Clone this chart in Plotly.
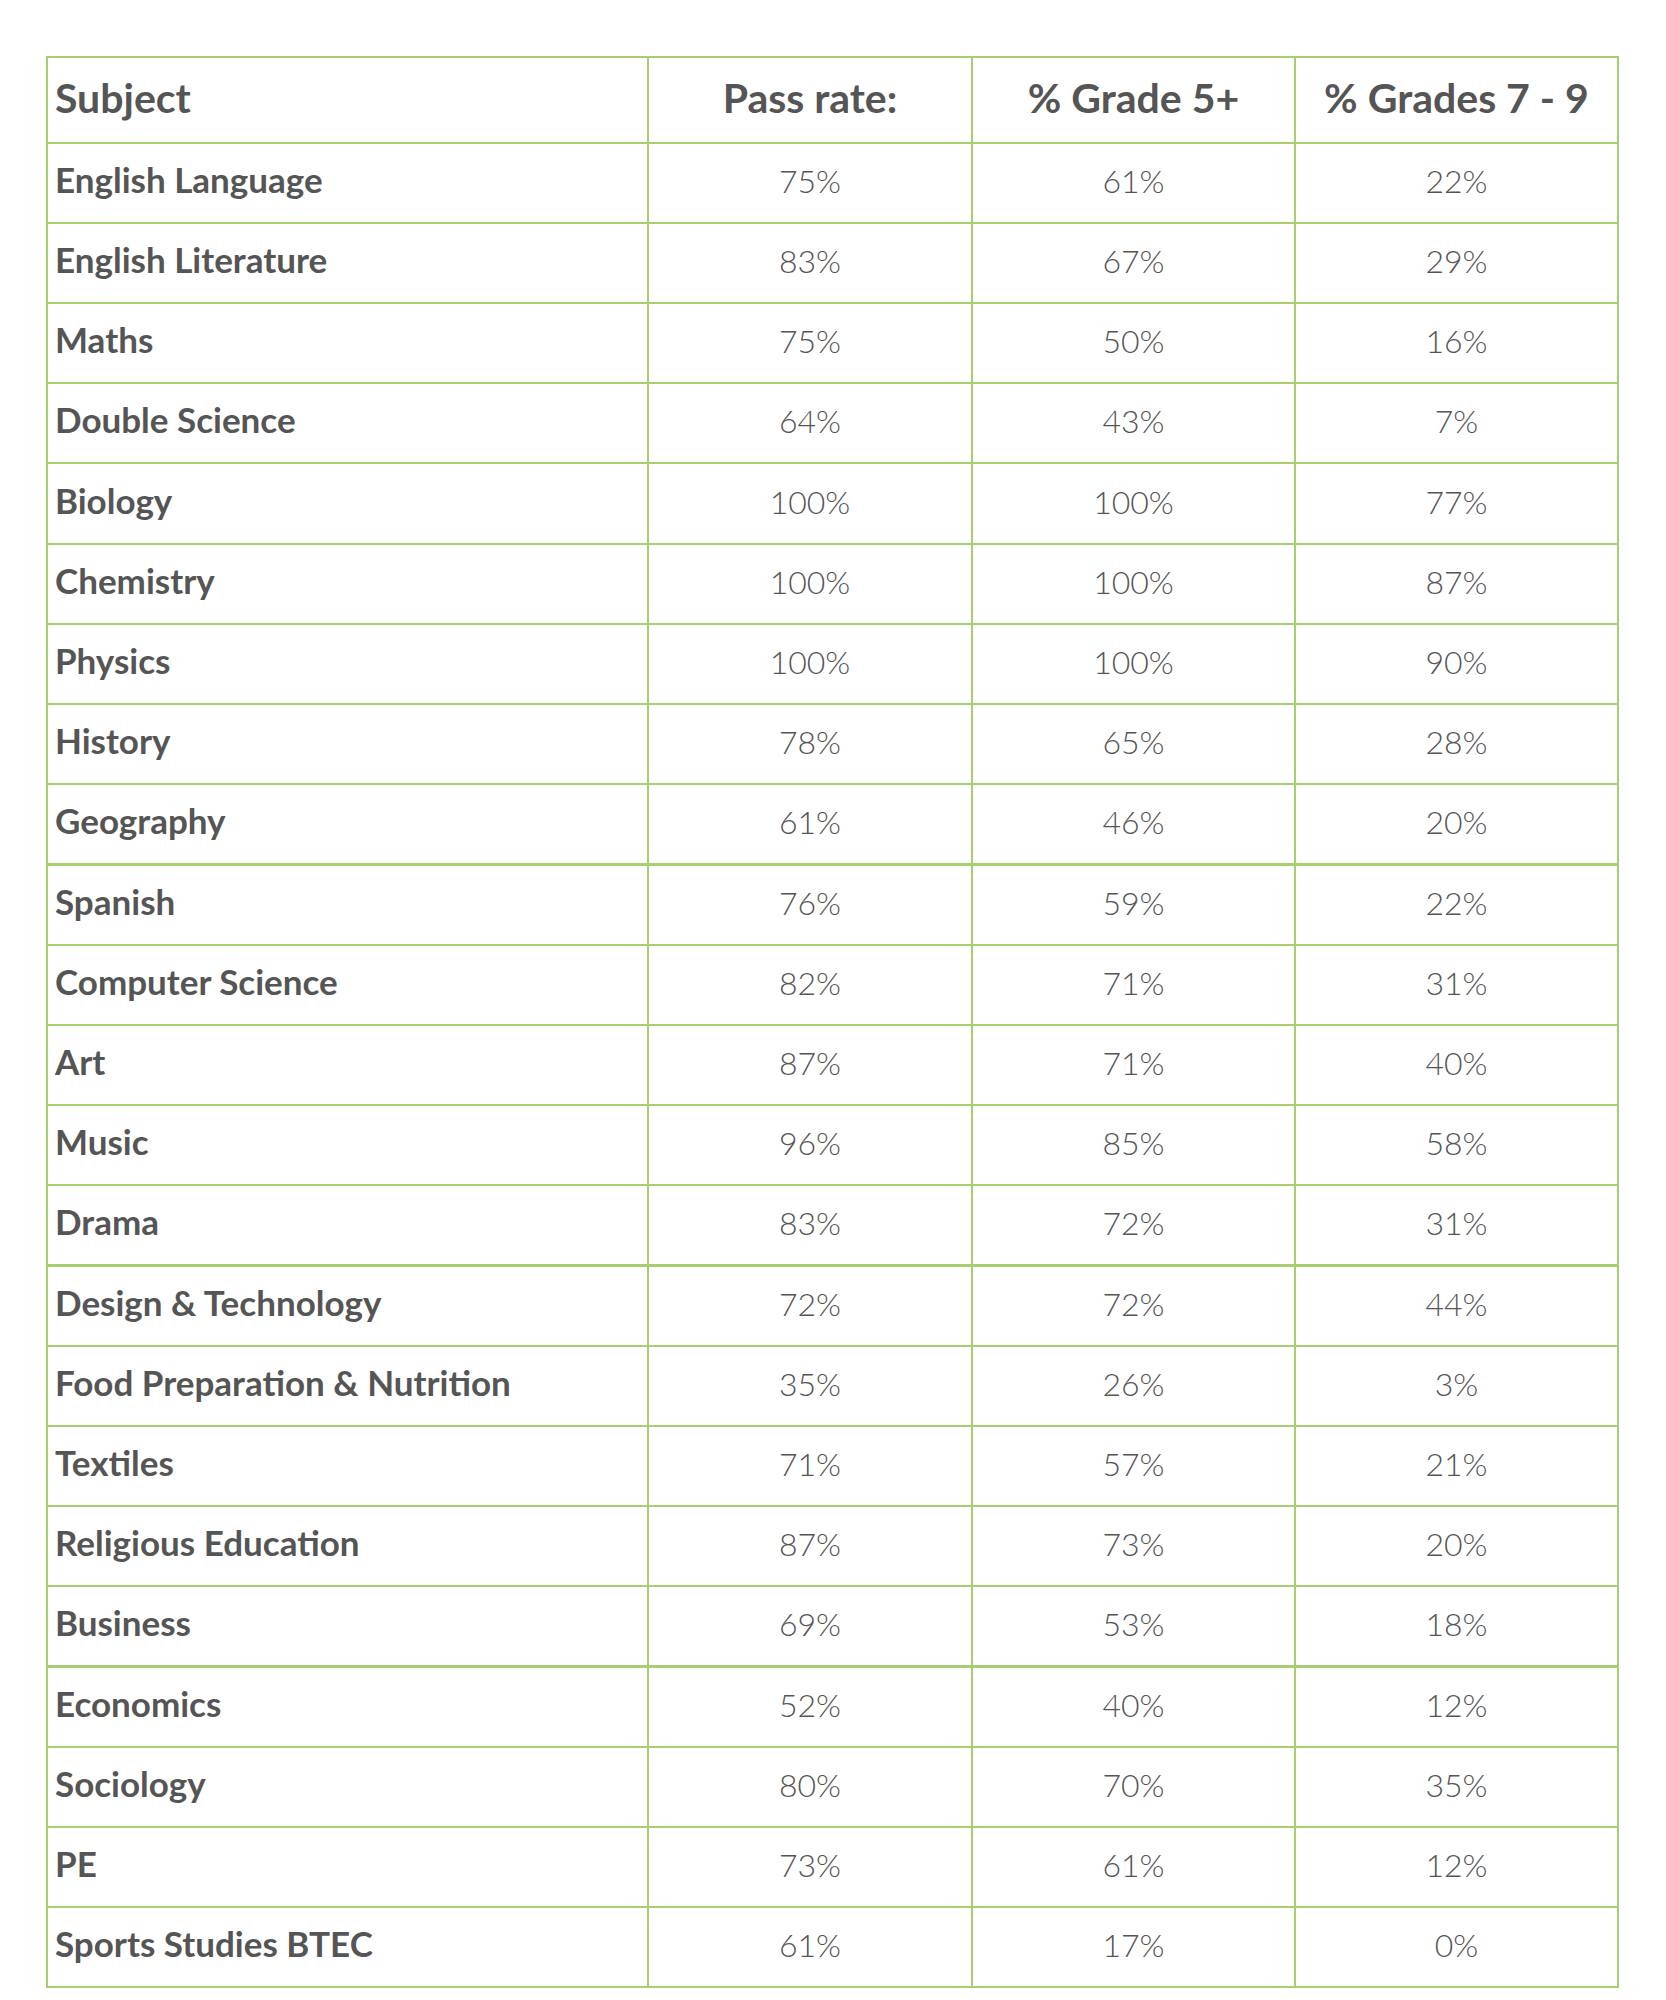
import plotly.graph_objects as go

BORDER = "#a6cf72"
TEXT = "#555555"

headers = ["Subject", "Pass rate:", "% Grade 5+", "% Grades 7 - 9"]
subjects = [
    "English Language", "English Literature", "Maths", "Double Science",
    "Biology", "Chemistry", "Physics", "History", "Geography", "Spanish",
    "Computer Science", "Art", "Music", "Drama", "Design & Technology",
    "Food Preparation & Nutrition", "Textiles", "Religious Education",
    "Business", "Economics", "Sociology", "PE", "Sports Studies BTEC",
]
pass_rate = [75, 83, 75, 64, 100, 100, 100, 78, 61, 76, 82, 87, 96, 83, 72, 35, 71, 87, 69, 52, 80, 73, 61]
grade_5_plus = [61, 67, 50, 43, 100, 100, 100, 65, 46, 59, 71, 71, 85, 72, 72, 26, 57, 73, 53, 40, 70, 61, 17]
grade_7_9 = [22, 29, 16, 7, 77, 87, 90, 28, 20, 22, 31, 40, 58, 31, 44, 3, 21, 20, 18, 12, 35, 12, 0]

HEADER_SIZE = 41
SUBJECT_SIZE = 35
VALUE_SIZE = 32


def centred(text, size, bold=False):
    # plotly tables pin text to the top of the cell, so a blank first line
    # (at the small base font size) pushes the real text down to the middle
    inner = f"<b>{text}</b>" if bold else text
    return f"&nbsp;<br><span style='font-size:{size}px'>{inner}</span>"


def pct(values):
    return [centred(f"{v}%", VALUE_SIZE) for v in values]


fig = go.Figure(
    go.Table(
        columnwidth=[601, 324, 323, 323],
        header=dict(
            values=[centred(h, HEADER_SIZE, bold=True) for h in headers],
            align=["left", "center", "center", "center"],
            height=86,
            fill_color="white",
            line=dict(color=BORDER, width=2),
            font=dict(family="Lato", size=20.9, color=TEXT),
        ),
        cells=dict(
            values=[
                [centred(s, SUBJECT_SIZE, bold=True) for s in subjects],
                pct(pass_rate),
                pct(grade_5_plus),
                pct(grade_7_9),
            ],
            align=["left", "center", "center", "center"],
            height=80.2,
            fill_color="white",
            line=dict(color=BORDER, width=2),
            font=dict(family="Lato", size=18.6, color=TEXT, weight=[900, 300, 300, 300]),
        ),
        # the page body adds an 8px margin, so the domain is shifted back by that
        domain=dict(x=[39 / 1666, 1610 / 1666], y=[0, 1 - 48.7 / 2000]),
    )
)

fig.update_layout(
    width=1666,
    height=2000,
    margin=dict(l=0, r=0, t=0, b=0),
    paper_bgcolor="white",
    plot_bgcolor="white",
)

fig.write_html("out.html")
